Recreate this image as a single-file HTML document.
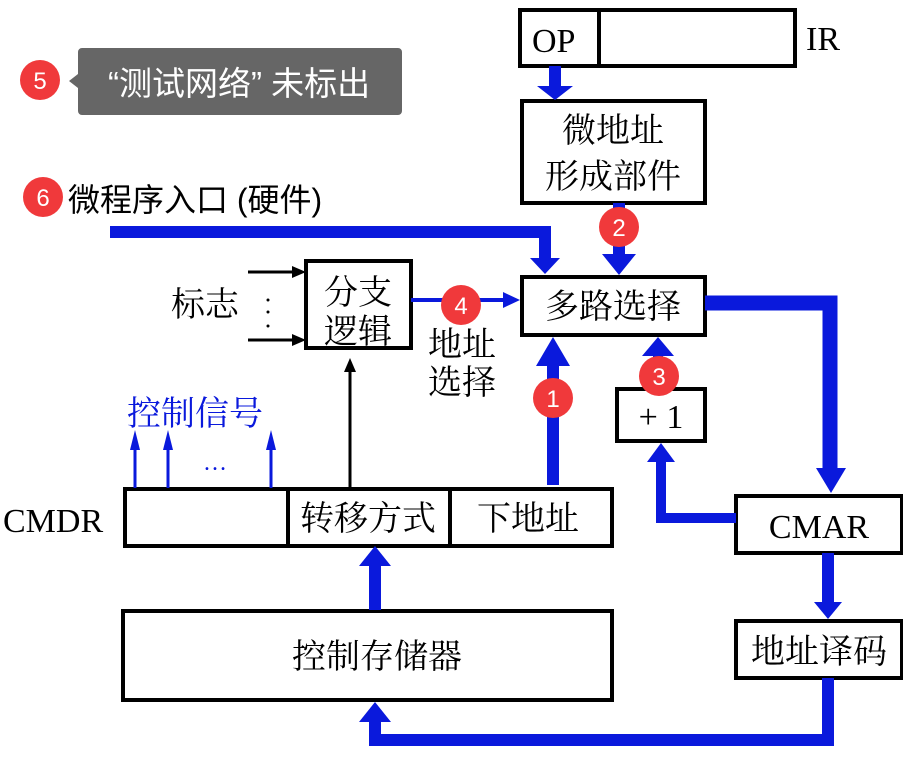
<!DOCTYPE html>
<html><head><meta charset="utf-8"><style>
body{margin:0;background:#fff;width:903px;height:754px;overflow:hidden}
text{font-family:"Liberation Serif","Noto Serif CJK SC","Noto Sans CJK SC",serif}
text.s{font-family:"Liberation Sans","Noto Sans CJK SC",sans-serif}
</style></head><body>
<svg width="903" height="754" viewBox="0 0 903 754" xmlns="http://www.w3.org/2000/svg">
<g fill="none" stroke="#000" stroke-width="4">
<rect x="520" y="10" width="275" height="56"/><line x1="599" y1="10" x2="599" y2="66"/>
<rect x="522" y="101" width="183" height="102"/>
<rect x="522" y="277" width="183" height="58"/>
<rect x="306" y="261" width="105" height="87"/>
<rect x="617" y="389" width="88" height="52"/>
<rect x="736" y="496" width="166" height="57"/>
<rect x="736" y="621" width="166" height="57"/>
<rect x="125" y="489" width="487" height="57"/>
<line x1="288" y1="489" x2="288" y2="546"/><line x1="450" y1="489" x2="450" y2="546"/>
<rect x="123" y="611" width="489" height="89"/>
</g>
<g stroke="#0a19dc" fill="none">
<path d="M555 66V88" stroke-width="12"/>
<path d="M110 232H545V260" stroke-width="12"/>
<path d="M619 203V258" stroke-width="12"/>
<path d="M705 303H830V470" stroke-width="15"/>
<path d="M828 553V603" stroke-width="12"/>
<path d="M828 678V740H375V720" stroke-width="12"/>
<path d="M375 610V565" stroke-width="12"/>
<path d="M553 485V365" stroke-width="12"/>
<path d="M736 518H661V460" stroke-width="10"/>
<path d="M658 389V355" stroke-width="10"/>
<path d="M411 300H505" stroke-width="4"/>
<path d="M135 488V448M168 488V448M271 488V448" stroke-width="3"/>
</g>
<g fill="#0a19dc">
<polygon points="537,86 573,86 555,100"/>
<polygon points="530,258 560,258 545,274"/>
<polygon points="602,254 636,254 619,275"/>
<polygon points="816,468 846,468 831,493"/>
<polygon points="814,602 842,602 828,619"/>
<polygon points="359,722 391,722 375,702"/>
<polygon points="359,566 391,566 375,546"/>
<polygon points="536,366 570,366 553,337"/>
<polygon points="647,462 675,462 661,443"/>
<polygon points="642,356 674,356 658,337"/>
<polygon points="503,292 520,300 503,308"/>
<polygon points="130,450 140,450 135,430"/>
<polygon points="163,450 173,450 168,430"/>
<polygon points="266,450 276,450 271,430"/>
</g>
<g stroke="#000" stroke-width="3" fill="none">
<path d="M248 272H300M248 340H300M350 488V370"/>
</g>
<g fill="#000">
<polygon points="292,266 306,272 292,278"/><polygon points="292,334 306,340 292,346"/>
<polygon points="344,372 356,372 350,358"/>
<circle cx="268" cy="300" r="1.5"/><circle cx="268" cy="312" r="1.5"/><circle cx="268" cy="326" r="1.5"/>
</g>
<g font-size="34" fill="#000">
<text x="532" y="52">OP</text>
<text x="806" y="50">IR</text>
<text x="613" y="142" text-anchor="middle">微地址</text>
<text x="613" y="188" text-anchor="middle">形成部件</text>
<text x="613" y="318" text-anchor="middle">多路选择</text>
<text x="358" y="304" text-anchor="middle">分支</text>
<text x="358" y="343" text-anchor="middle">逻辑</text>
<text x="171" y="316">标志</text>
<text x="462" y="356" text-anchor="middle">地址</text>
<text x="462" y="394" text-anchor="middle">选择</text>
<text x="661" y="428" text-anchor="middle">+ 1</text>
<text x="819" y="538" text-anchor="middle">CMAR</text>
<text x="819" y="663" text-anchor="middle">地址译码</text>
<text x="3" y="532">CMDR</text>
<text x="368" y="530" text-anchor="middle">转移方式</text>
<text x="528" y="530" text-anchor="middle">下地址</text>
<text x="377" y="668" text-anchor="middle">控制存储器</text>
<text x="127" y="425" fill="#0a19dc">控制信号</text>
<text x="203" y="470" fill="#0a19dc" font-size="24">…</text>
</g>
<path d="M82 48H398a4 4 0 0 1 4 4V111a4 4 0 0 1-4 4H82a4 4 0 0 1-4-4V88L69 81L78 74V52a4 4 0 0 1 4-4z" fill="#666"/>
<text class="s" x="108" y="95" font-size="33" fill="#fff">“测试网络” 未标出</text>
<text class="s" x="68" y="211" font-size="32" fill="#000">微程序入口 (硬件)</text>
<g fill="#f0393b">
<circle cx="40" cy="80" r="20"/><circle cx="43" cy="197" r="20"/><circle cx="619" cy="227" r="20"/>
<circle cx="461" cy="305" r="20"/><circle cx="553" cy="398" r="20"/><circle cx="659" cy="376" r="20"/>
</g>
<g font-size="24" fill="#fff" text-anchor="middle">
<text class="s" x="40" y="89">5</text><text class="s" x="43" y="206">6</text><text class="s" x="619" y="236">2</text>
<text class="s" x="461" y="314">4</text><text class="s" x="553" y="407">1</text><text class="s" x="659" y="385">3</text>
</g>
</svg>
</body></html>
